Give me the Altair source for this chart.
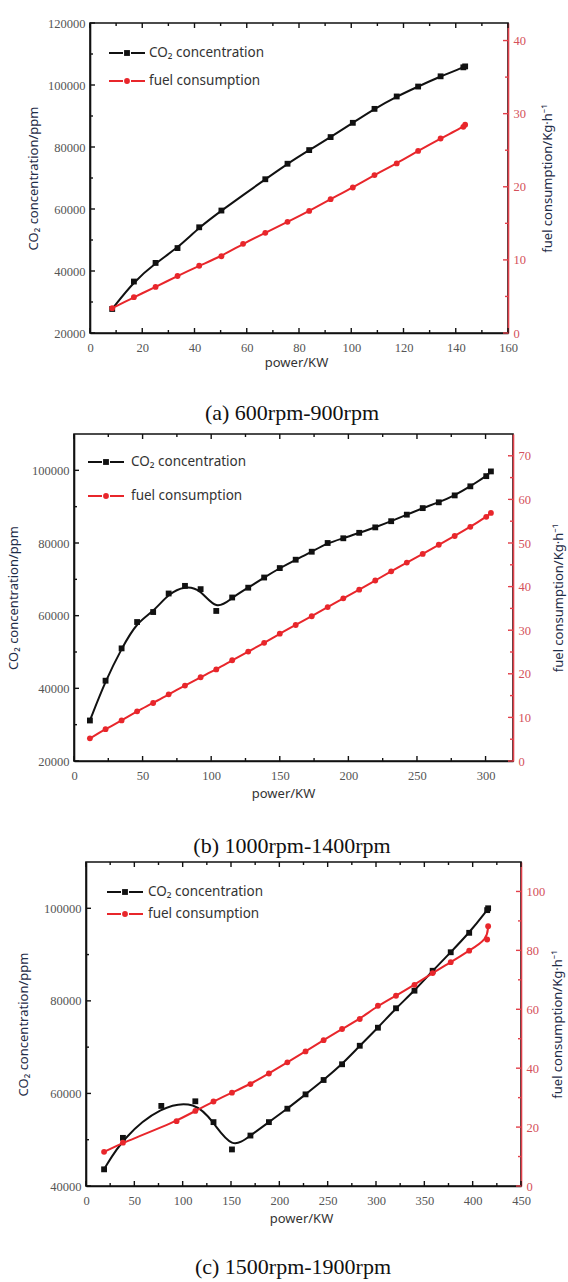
import altair as alt
import pandas as pd

# ---------------- data ----------------
# (a) 600rpm-900rpm
a_co2_power = [8.5, 16.8, 25.1, 33.5, 41.8, 50.3, 67.1, 75.6, 83.9, 92.1, 100.6, 108.9, 117.4, 125.6, 134.2, 142.9, 143.6]
a_co2 = [27750, 36600, 42600, 47400, 54100, 59500, 69600, 74600, 79000, 83200, 87800, 92300, 96300, 99500, 102800, 105700, 106000]
a_fuel_power = [8.5, 16.8, 25.1, 33.5, 41.8, 50.3, 58.6, 67.1, 75.6, 83.9, 92.1, 100.6, 108.9, 117.4, 125.6, 134.2, 142.9, 143.6]
a_fuel = [3.4, 4.9, 6.3, 7.8, 9.2, 10.5, 12.2, 13.7, 15.2, 16.7, 18.3, 19.9, 21.6, 23.2, 24.9, 26.6, 28.2, 28.5]

# (b) 1000rpm-1400rpm
b_power = [11.6, 23.0, 34.7, 46.0, 57.7, 69.0, 80.9, 92.3, 103.7, 115.3, 127.0, 138.6, 150.0, 161.6,
           173.3, 184.9, 196.3, 207.9, 219.6, 231.2, 242.6, 254.2, 265.9, 277.5, 288.9, 300.5, 303.9]
b_co2 = [31150, 42100, 51000, 58250, 61000, 66100, 68200, 67300, 61300, 65000, 67700, 70500, 73100, 75400,
         77600, 80000, 81300, 82800, 84300, 86000, 87800, 89600, 91200, 93100, 95600, 98400, 99700]
b_fuel = [5.2, 7.3, 9.3, 11.4, 13.3, 15.3, 17.3, 19.2, 21.0, 23.1, 25.1, 27.1, 29.2, 31.2,
          33.2, 35.3, 37.3, 39.3, 41.4, 43.5, 45.5, 47.5, 49.6, 51.6, 53.7, 56.0, 56.9]

# (c) 1500rpm-1900rpm
c_co2_power = [18.7, 38.2, 77.9, 113.1, 131.9, 151.0, 170.1, 189.2, 208.3, 227.1, 245.8, 264.9, 283.2,
               302.0, 320.7, 339.8, 358.6, 377.3, 396.4, 415.0, 416.0]
c_co2 = [43600, 50400, 57300, 58300, 53800, 47900, 50900, 53800, 56700, 59800, 62900, 66300, 70300,
         74200, 78400, 82200, 86500, 90500, 94700, 99600, 100000]
c_fuel_power = [18.7, 38.2, 93.7, 113.1, 131.9, 151.0, 170.1, 189.2, 208.3, 227.1, 245.8, 264.9, 283.2,
                302.0, 320.7, 339.8, 358.6, 377.3, 396.4, 415.0, 416.0]
c_fuel = [11.6, 14.7, 22.0, 25.5, 28.7, 31.7, 34.6, 38.2, 42.0, 45.7, 49.5, 53.3, 56.7,
          61.2, 64.6, 68.3, 72.3, 76.0, 79.9, 83.7, 88.2]

# axis ticks
a_x_major = [0, 20, 40, 60, 80, 100, 120, 140, 160]
a_x_minor = [10, 30, 50, 70, 90, 110, 130, 150]
a_yl_major = [20000, 40000, 60000, 80000, 100000, 120000]
a_yl_minor = [30000, 50000, 70000, 90000, 110000]
a_yr_major = [0, 10, 20, 30, 40]
a_yr_minor = [5, 15, 25, 35]

b_x_major = [0, 50, 100, 150, 200, 250, 300]
b_x_minor = [25, 75, 125, 175, 225, 275]
b_yl_major = [20000, 40000, 60000, 80000, 100000]
b_yl_minor = [30000, 50000, 70000, 90000]
b_yr_major = [0, 10, 20, 30, 40, 50, 60, 70]
b_yr_minor = [5, 15, 25, 35, 45, 55, 65]

c_x_major = [0, 50, 100, 150, 200, 250, 300, 350, 400, 450]
c_x_minor = [25, 75, 125, 175, 225, 275, 325, 375, 425]
c_yl_major = [40000, 60000, 80000, 100000]
c_yl_minor = [50000, 70000, 90000]
c_yr_major = [0, 20, 40, 60, 80, 100]
c_yr_minor = [10, 30, 50, 70, 90]

legend_labels = ["CO₂ concentration", "fuel consumption"]
captions = ["(a) 600rpm-900rpm", "(b) 1000rpm-1400rpm", "(c) 1500rpm-1900rpm"]

# ---------------- style ----------------
BLACK = "#111111"
RED = "#e8262b"
RED_AXIS = "#e2404a"
RED_LABEL = "#d4505a"
SERIF = "Liberation Serif"
SANS = "Noto Sans"
TITLE_COL = "#1f2d48"
LABEL_COL = "#555555"
EXT = 70  # fixed left extent of every panel (room for the left axis)

one = pd.DataFrame({"t": ["x"]})


def ticks_df(vals):
    return pd.DataFrame({"v": vals})


def panel(cfg):
    W, H = cfg["W"], cfg["H"]
    xs = alt.Scale(domain=cfg["xdom"], nice=False, zero=False)
    yl = alt.Scale(domain=cfg["yldom"], nice=False, zero=False)
    yr = alt.Scale(domain=cfg["yrdom"], nice=False, zero=False)

    common = dict(ticks=False, grid=False, format="d", labelFont=SERIF, labelFontSize=12.5,
                  labelFlush=False, labelOverlap=False, titleFont=SANS, titleFontSize=13,
                  titleFontWeight="normal", domainWidth=1.6)
    x_axis = alt.Axis(orient="bottom", values=cfg["xmaj"], title="power/KW", labelColor=LABEL_COL,
                      domainColor=BLACK, labelPadding=8, titleColor="#333333",
                      titlePadding=cfg["xtp"], titleX=cfg["xtx"], **common)
    yl_axis = alt.Axis(orient="left", values=cfg["ylmaj"], title="CO₂ concentration/ppm",
                       labelColor=LABEL_COL, domainColor=BLACK, labelPadding=5,
                       titleColor=TITLE_COL, titlePadding=cfg["yltp"], **common)
    yr_axis = alt.Axis(orient="right", values=cfg["yrmaj"], title="fuel consumption/Kg·h⁻¹",
                       labelColor=RED_LABEL, domainColor=RED_AXIS, labelPadding=5,
                       titleColor=TITLE_COL, titlePadding=cfg["yrtp"], titleAngle=270, **common)

    X = alt.X("p:Q", scale=xs, axis=x_axis)
    co2 = pd.DataFrame({"p": cfg["co2_p"], "c": cfg["co2"]})
    fuel = pd.DataFrame({"p": cfg["fuel_p"], "f": cfg["fuel"]})
    YL = alt.Y("c:Q", scale=yl, axis=yl_axis)
    YR = alt.Y("f:Q", scale=yr, axis=yr_axis)

    spacer = alt.Chart(one).mark_rect(opacity=0).encode(
        x=alt.value(-EXT), x2=alt.value(0),
        y=alt.value(-cfg["top"]), y2=alt.value(cfg["bottom"]))

    XT = alt.X("v:Q", scale=xs, axis=x_axis)
    YLT = alt.Y("v:Q", scale=yl, axis=yl_axis)
    YRT = alt.Y("v:Q", scale=yr, axis=yr_axis)
    MAJ, MIN = 5, 3
    tk = dict(color=BLACK, strokeWidth=1.4)
    x_ticks = [
        alt.Chart(ticks_df(cfg["xmaj"])).mark_rule(**tk).encode(x=XT, y=alt.value(H), y2=alt.value(H - MAJ)),
        alt.Chart(ticks_df(cfg["xmin"])).mark_rule(**tk).encode(x=XT, y=alt.value(H), y2=alt.value(H - MIN)),
        alt.Chart(ticks_df(cfg["xmaj"])).mark_rule(**tk).encode(x=XT, y=alt.value(0), y2=alt.value(MAJ)),
        alt.Chart(ticks_df(cfg["xmin"])).mark_rule(**tk).encode(x=XT, y=alt.value(0), y2=alt.value(MIN)),
    ]
    yl_ticks = [
        alt.Chart(ticks_df(cfg["ylmaj"])).mark_rule(**tk).encode(y=YLT, x=alt.value(0), x2=alt.value(MAJ)),
        alt.Chart(ticks_df(cfg["ylmin"])).mark_rule(**tk).encode(y=YLT, x=alt.value(0), x2=alt.value(MIN)),
    ]
    rtk = dict(color=RED_AXIS, strokeWidth=1.4)
    yr_ticks = [
        alt.Chart(ticks_df(cfg["yrmaj"])).mark_rule(**rtk).encode(y=YRT, x=alt.value(W), x2=alt.value(W - MAJ)),
        alt.Chart(ticks_df(cfg["yrmin"])).mark_rule(**rtk).encode(y=YRT, x=alt.value(W), x2=alt.value(W - MIN)),
    ]

    co2_line = alt.Chart(co2).mark_line(color=BLACK, strokeWidth=2, interpolate="basis").encode(x=X, y=YL)
    co2_pts = alt.Chart(co2).mark_point(shape="square", filled=True, color=BLACK, size=34, opacity=1).encode(x=X, y=YL)
    fuel_line = alt.Chart(fuel).mark_line(color=RED, strokeWidth=2, interpolate="basis").encode(x=X, y=YR)
    fuel_pts = alt.Chart(fuel).mark_point(shape="circle", filled=True, color=RED, size=34, opacity=1).encode(x=X, y=YR)

    lx0, lx1, ltx = cfg["leg_x"]
    legend = []
    for label, color, shape, ly in [(legend_labels[0], BLACK, "square", cfg["leg_y"][0]),
                                    (legend_labels[1], RED, "circle", cfg["leg_y"][1])]:
        d = pd.DataFrame({"t": [label]})
        legend.append(alt.Chart(d).mark_rule(color=color, strokeWidth=2, strokeDash=[14, 8]).encode(
            x=alt.value(lx0), x2=alt.value(lx1), y=alt.value(ly)))
        legend.append(alt.Chart(d).mark_point(shape=shape, filled=True, color=color, size=34, opacity=1).encode(
            x=alt.value((lx0 + lx1) / 2), y=alt.value(ly)))
        legend.append(alt.Chart(d).mark_text(align="left", baseline="middle", font=SANS, fontSize=13.5,
                                             color="#333333").encode(
            x=alt.value(ltx), y=alt.value(ly), text="t:N"))

    cap = alt.Chart(pd.DataFrame({"t": [cfg["caption"]]})).mark_text(
        font=SERIF, fontSize=22, color="#111111", align="center", baseline="middle").encode(
        x=alt.value(cfg["cap_x"] - cfg["pl"]), y=alt.value(cfg["cap_y"] - cfg["pt"]), text="t:N")

    left = alt.layer(spacer, *x_ticks, *yl_ticks, co2_line, co2_pts, *legend, cap)
    right = alt.layer(fuel_line, fuel_pts, *yr_ticks)
    inner = alt.layer(left, right).resolve_scale(y="independent").properties(width=W, height=H)

    # a 1-px invisible unit to the left: its spacing shifts the panel to its own left position
    pad_unit = alt.Chart(one).mark_rect(opacity=0).encode(
        x=alt.value(0), x2=alt.value(1), y=alt.value(0), y2=alt.value(1)
    ).properties(width=1, height=1,
                 view=alt.ViewBackground(stroke="transparent", fill="transparent", strokeWidth=0))
    return alt.hconcat(pad_unit, inner, spacing=cfg["pl"] - EXT - 3)


cfg_a = dict(W=418, H=310, pl=91, pt=22, top=22, bottom=404,
             xdom=[0, 160], xmaj=a_x_major, xmin=a_x_minor,
             yldom=[20000, 120000], ylmaj=a_yl_major, ylmin=a_yl_minor,
             yrdom=[0, 42.4], yrmaj=a_yr_major, yrmin=a_yr_minor,
             co2_p=a_co2_power, co2=a_co2, fuel_p=a_fuel_power, fuel=a_fuel,
             xtp=3, xtx=206, yltp=7, yrtp=29, leg_x=(19, 55, 59), leg_y=(30, 58),
             caption=captions[0], cap_x=293, cap_y=412)
cfg_b = dict(W=439, H=327, pl=75, pt=434, top=5, bottom=425,
             xdom=[0, 320], xmaj=b_x_major, xmin=b_x_minor,
             yldom=[20000, 110000], ylmaj=b_yl_major, ylmin=b_yl_minor,
             yrdom=[0, 75], yrmaj=b_yr_major, yrmin=b_yr_minor,
             co2_p=b_power, co2=b_co2, fuel_p=b_power, fuel=b_fuel,
             xtp=6, xtx=209, yltp=11, yrtp=35, leg_x=(14, 50, 57), leg_y=(28, 62),
             caption=captions[1], cap_x=293, cap_y=846)
cfg_c = dict(W=435, H=324, pl=87, pt=863, top=0, bottom=415,
             xdom=[0, 450], xmaj=c_x_major, xmin=c_x_minor,
             yldom=[40000, 110000], ylmaj=c_yl_major, ylmin=c_yl_minor,
             yrdom=[0, 110], yrmaj=c_yr_major, yrmin=c_yr_minor,
             co2_p=c_co2_power, co2=c_co2, fuel_p=c_fuel_power, fuel=c_fuel,
             xtp=6, xtx=215, yltp=13, yrtp=20, leg_x=(21, 57, 62), leg_y=(30, 52),
             caption=captions[2], cap_x=294, cap_y=1268)

chart = alt.vconcat(panel(cfg_a), panel(cfg_b), panel(cfg_c), spacing=0).properties(
    padding=0, background="white"
).configure_view(stroke=BLACK, strokeWidth=1.6).configure_axis(
    labelFont=SERIF, labelFontSize=12.5, titleFont=SANS
)

chart.save("out.html", embed_options={"renderer": "svg", "actions": False})
